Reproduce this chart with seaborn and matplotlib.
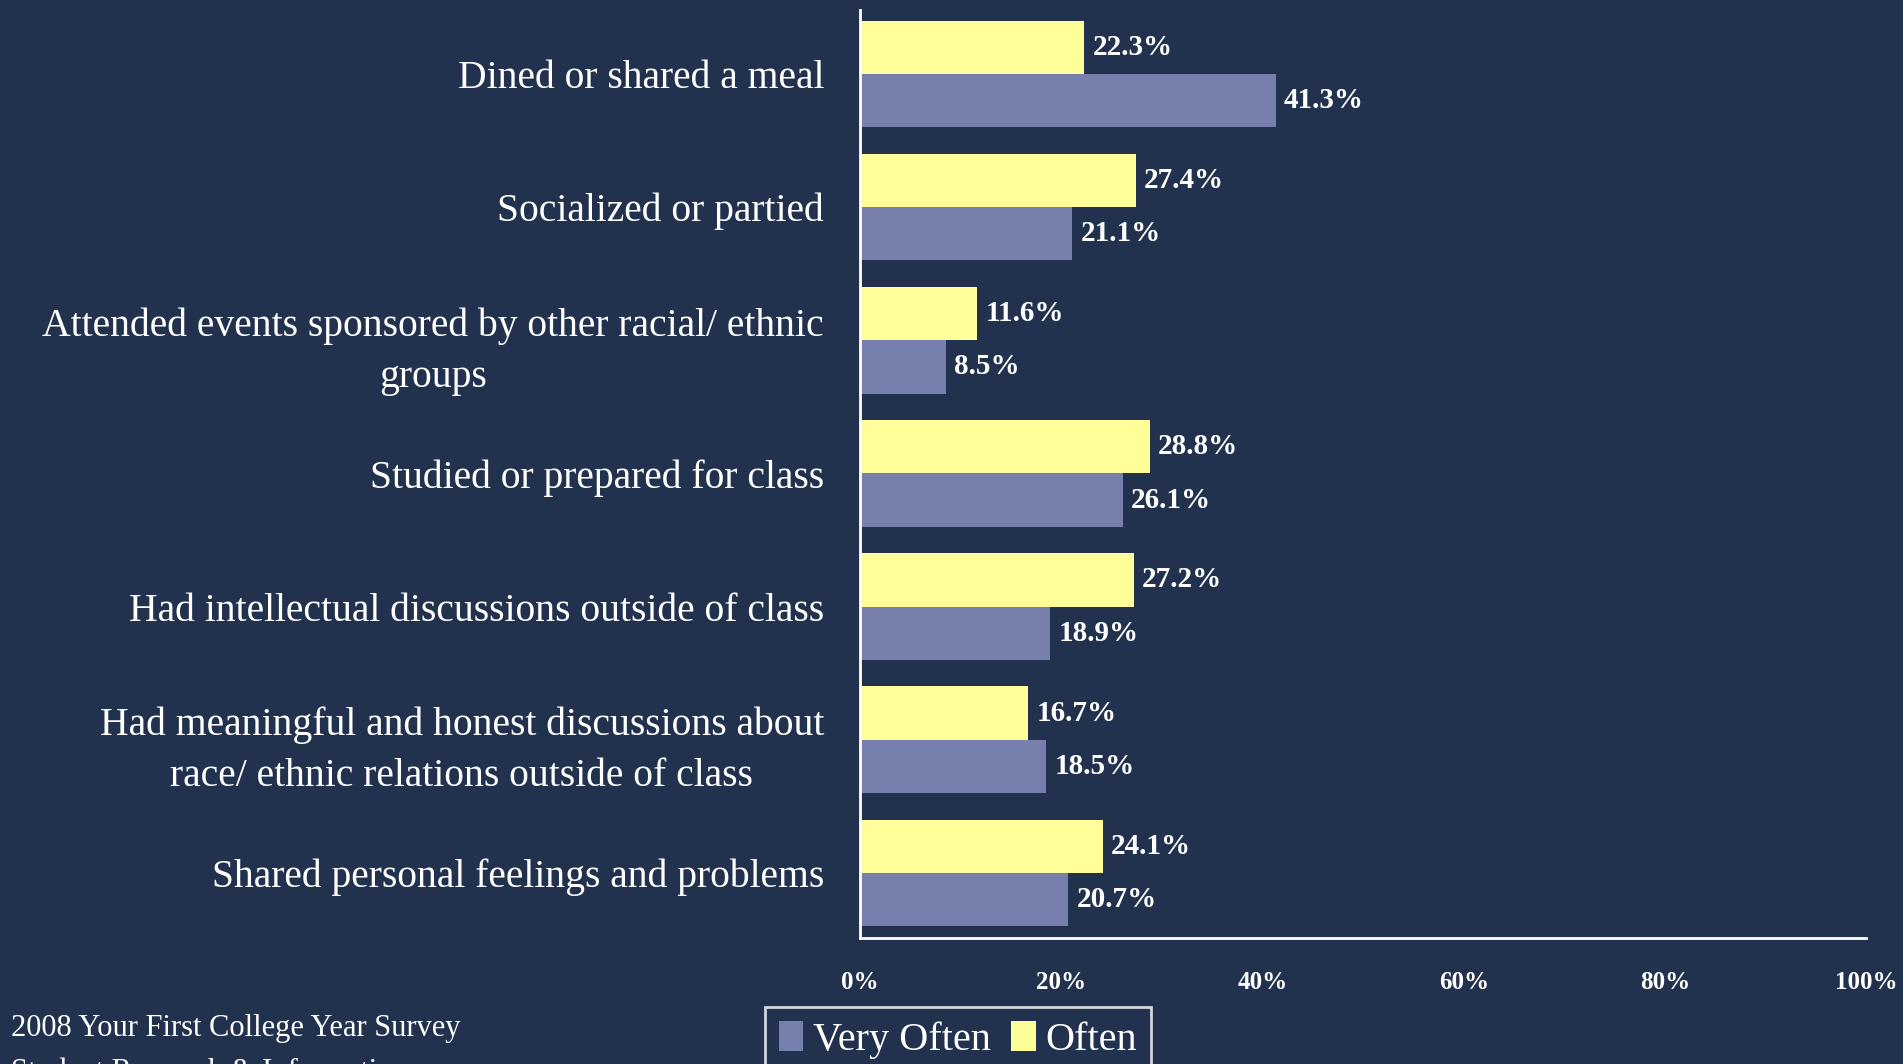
import numpy as np
import pandas as pd
import matplotlib
matplotlib.use("Agg")
import matplotlib.pyplot as plt
import seaborn as sns

# chart data
activities = [
    "Dined or shared a meal",
    "Socialized or partied",
    "Attended events sponsored by other racial/ ethnic\ngroups",
    "Studied or prepared for class",
    "Had intellectual discussions outside of class",
    "Had meaningful and honest discussions about\nrace/ ethnic relations outside of class",
    "Shared personal feelings and problems",
]
often = [22.3, 27.4, 11.6, 28.8, 27.2, 16.7, 24.1]
very_often = [41.3, 21.1, 8.5, 26.1, 18.9, 18.5, 20.7]
x_ticks = [0, 20, 40, 60, 80, 100]

BG = "#22324e"
BLUE = "#7780ad"
YELLOW = "#ffff99"

df = pd.DataFrame({
    "activity": activities * 2,
    "pct": often + very_often,
    "freq": ["Often"] * len(often) + ["Very Often"] * len(very_often),
})

sns.set_style("white")
plt.rcParams["font.family"] = ["Liberation Serif", "DejaVu Serif"]

fig = plt.figure(figsize=(19.03, 10.64), dpi=100, facecolor=BG)
ax = fig.add_axes([0.452, 0.1184, 0.5286, 0.8726])
ax.set_facecolor(BG)

sns.barplot(data=df, y="activity", x="pct", hue="freq",
            hue_order=["Often", "Very Often"],
            palette={"Often": YELLOW, "Very Often": BLUE},
            orient="h", width=0.8, gap=0, saturation=1,
            edgecolor="none", linewidth=0, ax=ax)

for cont in ax.containers:
    ax.bar_label(cont, fmt="%.1f%%", padding=6, color="white",
                 fontsize=21, fontweight="bold")

ax.set_xlim(0, 100)
ax.set_ylim(6.49, -0.485)
ax.set_xticks(x_ticks)
ax.set_xticklabels([f"{t}%" for t in x_ticks], color="white",
                   fontsize=18, fontweight="bold")
ax.tick_params(axis="x", length=0, pad=24)
ax.tick_params(axis="y", length=0, pad=26)
for lab in ax.get_yticklabels():
    lab.set_color("white")
    lab.set_fontsize(28.5)
    lab.set_multialignment("center")
    lab.set_linespacing(1.5)
ax.set_xlabel("")
ax.set_ylabel("")

for side in ["top", "right"]:
    ax.spines[side].set_visible(False)
for side in ["left", "bottom"]:
    ax.spines[side].set_color("white")
    ax.spines[side].set_linewidth(2)

# legend: Very Often first
handles, labels = ax.get_legend_handles_labels()
order = [labels.index("Very Often"), labels.index("Often")]
if ax.get_legend():
    ax.get_legend().remove()
leg = fig.legend([handles[i] for i in order], [labels[i] for i in order],
                 loc="upper left", bbox_to_anchor=(0.402, 0.054),
                 borderaxespad=0, ncol=2, frameon=True, fontsize=29,
                 handlelength=0.6, handleheight=0.8, handletextpad=0.25,
                 columnspacing=0.5, borderpad=0.35, fancybox=False,
                 labelcolor="white")
leg.get_frame().set_facecolor(BG)
leg.get_frame().set_edgecolor("white")
leg.get_frame().set_linewidth(2)

fig.text(0.006, 0.033, "2008 Your First College Year Survey", color="white",
         fontsize=22, va="center", ha="left")
fig.text(0.006, -0.008, "Student Research & Information", color="white",
         fontsize=22, va="center", ha="left")

fig.savefig("out.png", dpi=100, facecolor=BG)
